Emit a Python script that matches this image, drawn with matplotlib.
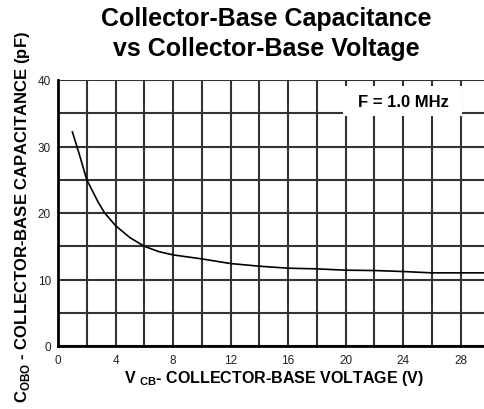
import numpy as np
import matplotlib
matplotlib.use("Agg")
import matplotlib.pyplot as plt
from matplotlib.patches import Rectangle

plt.rcParams['font.family'] = ['Liberation Sans', 'DejaVu Sans']
plt.rcParams['mathtext.fontset'] = 'custom'
plt.rcParams['mathtext.rm'] = 'Liberation Sans'
plt.rcParams['mathtext.bf'] = 'Liberation Sans:bold'

# curve
vcb = [1.0, 1.5, 2.0, 2.8, 3.25, 4.0, 5.0, 6.0, 7.0, 8.0, 10.0, 12.0,
       14.0, 16.0, 18.0, 20.0, 22.0, 24.0, 26.0, 28.0, 29.7]
cobo = [32.2, 28.7, 25.0, 21.6, 20.0, 18.1, 16.3, 15.0, 14.2, 13.7, 13.1, 12.4,
        12.0, 11.7, 11.6, 11.4, 11.35, 11.2, 11.0, 11.0, 11.0]

xticks = [0, 4, 8, 12, 16, 20, 24, 28]
yticks = [0, 10, 20, 30, 40]

W, H = 485, 410
fig = plt.figure(figsize=(W / 100, H / 100), dpi=100)
ax = fig.add_axes([58/W, 1 - 347/H, 1 - 58/W, (347 - 81)/H])

ax.plot(vcb, cobo, color='black', lw=1.2, zorder=3)

ax.set_xlim(0, 29.7)
ax.set_ylim(0, 40)
ax.set_xticks(xticks)
ax.set_yticks(yticks)
ax.set_xticks(np.arange(0, 30, 2), minor=True)
ax.set_yticks(np.arange(0, 41, 5), minor=True)
ax.grid(True, which='both', color='#333333', lw=1.5)
ax.tick_params(which='both', length=0, labelsize=8.5, colors='#222222')
ax.tick_params(axis='x', pad=6)
ax.tick_params(axis='y', pad=5)

for s in ['top', 'right']:
    ax.spines[s].set_visible(False)
for s in ['left', 'bottom']:
    ax.spines[s].set_linewidth(2)
    ax.spines[s].set_zorder(4)

# white label box over the grid
ax.add_patch(Rectangle((19.85, 34.6), 8.25, 4.5, facecolor='white',
                       edgecolor='none', zorder=4))
ax.text(24.0, 36.7, 'F = 1.0 MHz', fontsize=12, fontweight='bold',
        ha='center', va='center', zorder=5)

fig.text(274/W, 1 - 383/H, r'V $_{\mathbf{CB}}$- COLLECTOR-BASE VOLTAGE (V)',
         fontsize=11.5, fontweight='bold', ha='center', va='baseline')
fig.text(23/W, 1 - 217/H, r'C$_{\mathbf{OBO}}$ - COLLECTOR-BASE CAPACITANCE (pF)',
         fontsize=12, fontweight='bold', ha='center', va='center', rotation=90)

fig.text(266/W, 1 - 34/H, 'Collector-Base Capacitance\nvs Collector-Base Voltage',
         ha='center', va='center', fontsize=18, fontweight='bold',
         linespacing=1.35)

fig.savefig('out.png', dpi=100)
